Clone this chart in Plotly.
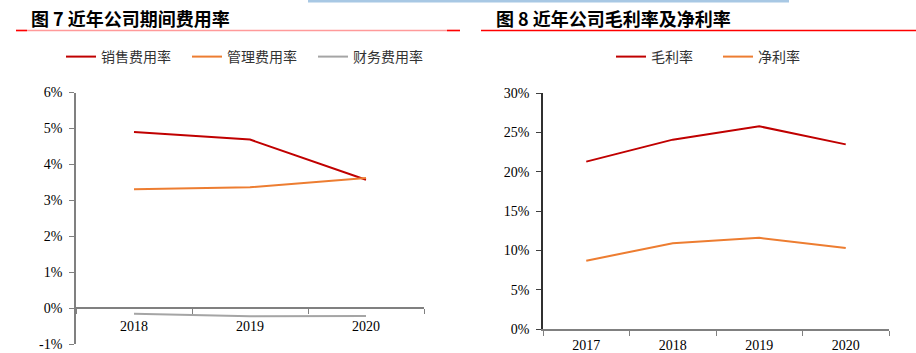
import plotly.graph_objects as go

# ---- data ----
years_left = ["2018", "2019", "2020"]
sales_rate = [4.90, 4.69, 3.57]
admin_rate = [3.31, 3.36, 3.62]
fin_rate = [-0.16, -0.23, -0.22]
left_ticks = [-1, 0, 1, 2, 3, 4, 5, 6]
left_tick_labels = ["-1%", "0%", "1%", "2%", "3%", "4%", "5%", "6%"]

years_right = ["2017", "2018", "2019", "2020"]
gross_margin = [21.3, 24.1, 25.8, 23.5]
net_margin = [8.7, 10.9, 11.6, 10.3]
right_ticks = [0, 5, 10, 15, 20, 25, 30]
right_tick_labels = ["0%", "5%", "10%", "15%", "20%", "25%", "30%"]

title_left = "图 7 近年公司期间费用率"
title_right = "图 8 近年公司毛利率及净利率"

W, H = 916, 353
RED = "#c00000"
ORANGE = "#ed7d31"
GRAY = "#a5a5a5"

def py(px):
    return 1 - px / H

def pxx(px):
    return px / W

fig = go.Figure()

fig.add_trace(go.Scatter(x=years_left, y=sales_rate, mode="lines", name="销售费用率",
                         line=dict(color=RED, width=2), xaxis="x", yaxis="y", legend="legend"))
fig.add_trace(go.Scatter(x=years_left, y=admin_rate, mode="lines", name="管理费用率",
                         line=dict(color=ORANGE, width=2), xaxis="x", yaxis="y", legend="legend"))
fig.add_trace(go.Scatter(x=years_left, y=fin_rate, mode="lines", name="财务费用率",
                         line=dict(color=GRAY, width=2), xaxis="x", yaxis="y", legend="legend"))

fig.add_trace(go.Scatter(x=years_right, y=gross_margin, mode="lines", name="毛利率",
                         line=dict(color=RED, width=2), xaxis="x2", yaxis="y2", legend="legend2"))
fig.add_trace(go.Scatter(x=years_right, y=net_margin, mode="lines", name="净利率",
                         line=dict(color=ORANGE, width=2), xaxis="x2", yaxis="y2", legend="legend2"))

tick_font = dict(family="Liberation Serif, Times New Roman, serif", size=14, color="#000000")
cjk = "Noto Sans CJK SC, sans-serif"

# left chart geometry
yl_bot, yl_top = 344, 92.5
ylo, yhi = -1, 6
zero_px = yl_bot - (0 - ylo) / (yhi - ylo) * (yl_bot - yl_top)

fig.update_layout(
    width=W, height=H,
    margin=dict(l=0, r=0, t=0, b=0),
    paper_bgcolor="white", plot_bgcolor="white",
    showlegend=True,
    xaxis=dict(domain=[pxx(76), pxx(424)], type="category", anchor="free", position=py(zero_px),
               range=[-0.5, len(years_left) - 0.5],
               tickson="boundaries", ticks="outside", ticklen=5, tickcolor="#808080",
               showline=True, linecolor="#808080", linewidth=1.5, showgrid=False,
               tickfont=tick_font, ticklabelstandoff=5, automargin=False),
    yaxis=dict(domain=[py(yl_bot), py(yl_top)], range=[ylo, yhi],
               tickmode="array", tickvals=left_ticks, ticktext=left_tick_labels,
               ticks="outside", ticklen=5, tickcolor="#808080", showline=True, linecolor="#808080",
               linewidth=1.5, showgrid=False, zeroline=False, tickfont=tick_font, anchor="x",
               ticklabelstandoff=4, automargin=False),
    xaxis2=dict(domain=[pxx(543), pxx(889)], type="category", anchor="y2",
                range=[-0.5, len(years_right) - 0.5],
                tickson="boundaries", ticks="outside", ticklen=5, tickcolor="#808080",
                showline=True, linecolor="#808080", linewidth=1.5, showgrid=False,
                tickfont=tick_font, ticklabelstandoff=2, automargin=False),
    yaxis2=dict(domain=[py(329), py(93.3)], range=[0, 30],
                tickmode="array", tickvals=right_ticks, ticktext=right_tick_labels,
                ticks="outside", ticklen=5, tickcolor="#404040", showline=True, linecolor="#303030",
                linewidth=1.5, showgrid=False, zeroline=False, tickfont=tick_font, anchor="x2",
                ticklabelstandoff=4, automargin=False),
    legend=dict(orientation="h", x=pxx(61), xanchor="left", y=py(57), yanchor="middle",
                font=dict(family=cjk, size=14, color="#333333"), entrywidth=81,
                bgcolor="rgba(0,0,0,0)"),
    legend2=dict(orientation="h", x=pxx(611), xanchor="left", y=py(57), yanchor="middle",
                 font=dict(family=cjk, size=14, color="#333333"), entrywidth=62,
                 bgcolor="rgba(0,0,0,0)"),
)

# titles
fig.add_annotation(text=title_left, xref="paper", yref="paper", x=pxx(29), y=py(18),
                   xanchor="left", yanchor="middle", showarrow=False,
                   font=dict(family=cjk, size=18, color="#000000", weight="bold"))
fig.add_annotation(text=title_right, xref="paper", yref="paper", x=pxx(494), y=py(18),
                   xanchor="left", yanchor="middle", showarrow=False,
                   font=dict(family=cjk, size=18, color="#000000", weight="bold"))

# decorative rules
shapes = [
    dict(type="rect", xref="paper", yref="paper", x0=pxx(308), x1=pxx(789), y0=py(2.5), y1=py(0),
         fillcolor="#a8c8e4", line=dict(width=0)),
    dict(type="line", xref="paper", yref="paper", x0=pxx(16), x1=pxx(460), y0=py(30.5), y1=py(30.5),
         line=dict(color="#ff9a9a", width=1.5)),
    dict(type="line", xref="paper", yref="paper", x0=pxx(16), x1=pxx(27), y0=py(30.5), y1=py(30.5),
         line=dict(color="#ff0000", width=1.5)),
    dict(type="line", xref="paper", yref="paper", x0=pxx(447), x1=pxx(460), y0=py(30.5), y1=py(30.5),
         line=dict(color="#ff0000", width=1.5)),
    dict(type="line", xref="paper", yref="paper", x0=pxx(481), x1=pxx(916), y0=py(30.5), y1=py(30.5),
         line=dict(color="#ff0000", width=1.5)),
]
fig.update_layout(shapes=shapes)

fig.write_html("out.html")
